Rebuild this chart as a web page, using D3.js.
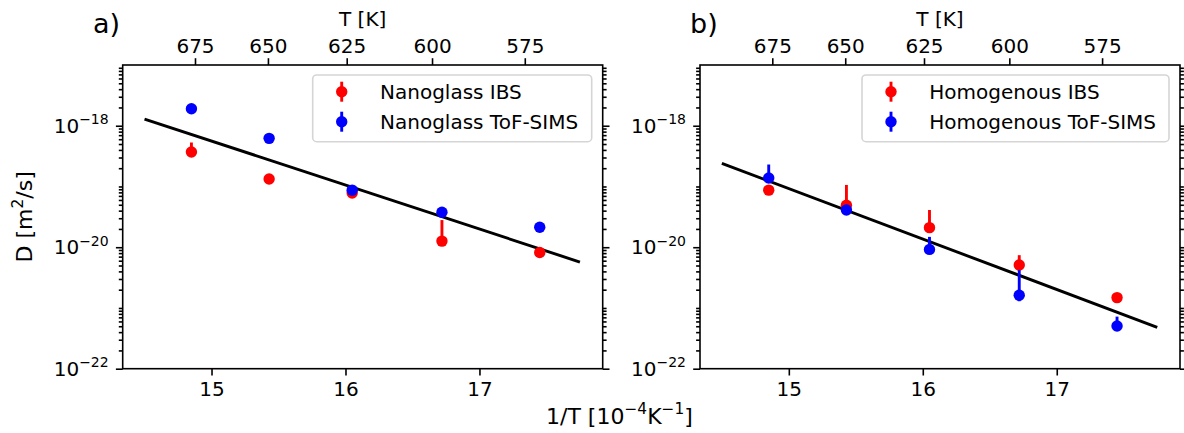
<!DOCTYPE html>
<html>
<head>
<meta charset="utf-8">
<script src="https://cdn.jsdelivr.net/npm/d3@7"></script>
<style>
  body { margin: 0; background: #fff; }
  svg { font-family: "DejaVu Sans", sans-serif; }
</style>
</head>
<body>
<div id="chart"></div>
<script>
// inverse temperature of the samples [1e-4 / K]
const invT = [14.85, 15.43, 16.05, 16.72, 17.45];
const tempTicks = [675, 650, 625, 600, 575];
const yMajor = [1e-22, 1e-20, 1e-18];

// a) nanoglass
const nanoIBS = [3.7e-19, 1.33e-19, 7.8e-20, 1.26e-20, 8.2e-21];
const nanoIBSLo = [3.4e-19, 1.25e-19, 7.3e-20, 1.18e-20, 7.7e-21];
const nanoIBSHi = [5.3e-19, 1.42e-19, 8.4e-20, 2.8e-20, 8.8e-21];
const nanoTof = [1.9e-18, 6.2e-19, 8.7e-20, 3.76e-20, 2.13e-20];
const nanoTofLo = [1.75e-18, 5.7e-19, 8.0e-20, 3.5e-20, 2.0e-20];
const nanoTofHi = [2.05e-18, 6.7e-19, 9.4e-20, 4.0e-20, 2.27e-20];

// b) homogenous
const homIBS = [8.7e-20, 4.9e-20, 2.1e-20, 5.1e-21, 1.48e-21];
const homIBSLo = [8.1e-20, 4.5e-20, 1.95e-20, 4.7e-21, 1.38e-21];
const homIBSHi = [9.4e-20, 1.06e-19, 4.1e-20, 7.4e-21, 1.58e-21];
const homTof = [1.38e-19, 4.1e-20, 9.2e-21, 1.62e-21, 5.05e-22];
const homTofLo = [1.25e-19, 3.8e-20, 8.5e-21, 1.29e-21, 4.7e-22];
const homTofHi = [2.3e-19, 4.4e-20, 1.48e-20, 4.2e-21, 7.2e-22];

// Arrhenius fits
const fitX = [14.5, 17.75];
const nanoFit = [1.29e-18, 5.7e-21];
const homFit = [2.4e-19, 4.8e-22];

const width = 1184, height = 433;
const plotTop = 65, plotBottom = 368.7, pw = 480;
const fs = 20, labelFs = 22;
const red = '#ff0000', blue = '#0000ff';

const svg = d3.select('#chart').append('svg')
    .attr('width', width).attr('height', height);

function series(vals, lo, hi, color, label) {
    const points = vals.map((v, i) => ({ x: invT[i], y: v, lo: lo[i], hi: hi[i] }));
    return { points: points, color: color, label: label };
}

const panels = [
    {
        left: 122.7, tag: 'a)', tagX: 93, fit: nanoFit, legendW: 279,
        sets: [series(nanoIBS, nanoIBSLo, nanoIBSHi, red, 'Nanoglass IBS'),
               series(nanoTof, nanoTofLo, nanoTofHi, blue, 'Nanoglass ToF-SIMS')]
    },
    {
        left: 700, tag: 'b)', tagX: 690, fit: homFit, legendW: 307,
        sets: [series(homIBS, homIBSLo, homIBSHi, red, 'Homogenous IBS'),
               series(homTof, homTofLo, homTofHi, blue, 'Homogenous ToF-SIMS')]
    }
];

function minorTicks() {
    const out = [];
    for (let e = -22; e < -17; e++) {
        for (let m = 1; m <= 9; m++) {
            if (m === 1 && e % 2 === 0) continue;
            out.push(m * Math.pow(10, e));
        }
    }
    return out;
}

function drawPanel(p) {
    const x = d3.scaleLinear().domain([14.337, 17.92]).range([p.left, p.left + pw]);
    const xTop = d3.scaleLinear().domain([14.25, 18.0]).range([p.left, p.left + pw]);
    const y = d3.scaleLog().domain([1e-22, 1e-17]).range([plotBottom, plotTop]);
    const g = svg.append('g');

    // fit line
    g.append('path')
        .datum(fitX.map((v, i) => [v, p.fit[i]]))
        .attr('d', d3.line().x(d => x(d[0])).y(d => y(d[1])))
        .attr('fill', 'none').attr('stroke', '#000').attr('stroke-width', 2.9);

    // error bars + markers
    p.sets.forEach(s => {
        const sg = g.append('g');
        sg.selectAll('line').data(s.points).enter().append('line')
            .attr('x1', d => x(d.x)).attr('x2', d => x(d.x))
            .attr('y1', d => y(d.lo)).attr('y2', d => y(d.hi))
            .attr('stroke', s.color).attr('stroke-width', 2.9);
        sg.selectAll('circle').data(s.points).enter().append('circle')
            .attr('cx', d => x(d.x)).attr('cy', d => y(d.y)).attr('r', 5.7)
            .attr('fill', s.color);
    });

    // frame
    g.append('rect').attr('x', p.left).attr('y', plotTop).attr('width', pw).attr('height', plotBottom - plotTop)
        .attr('fill', 'none').attr('stroke', '#000').attr('stroke-width', 1.6);

    const styleAxis = sel => {
        sel.select('.domain').remove();
        sel.selectAll('line').attr('stroke', '#000').attr('stroke-width', 1.6);
        sel.selectAll('text').attr('font-size', fs).attr('fill', '#000')
            .attr('font-family', '"DejaVu Sans", sans-serif');
    };

    // bottom axis
    g.append('g').attr('transform', `translate(0,${plotBottom})`)
        .call(d3.axisBottom(x).tickValues([15, 16, 17]).tickFormat(d3.format('d'))
            .tickSize(6.8).tickPadding(6))
        .call(styleAxis);

    // top axis in temperature
    g.append('g').attr('transform', `translate(0,${plotTop})`)
        .call(d3.axisTop(xTop).tickValues(tempTicks.map(t => 1e4 / t))
            .tickFormat((d, i) => tempTicks[i]).tickSize(6.8).tickPadding(5))
        .call(styleAxis);

    // y axes, left and right
    [[p.left, d3.axisLeft], [p.left + pw, d3.axisRight]].forEach(([xp, ax]) => {
        g.append('g').attr('transform', `translate(${xp},0)`)
            .call(ax(y).tickValues(yMajor).tickFormat('').tickSize(6.8))
            .call(styleAxis);
        g.append('g').attr('transform', `translate(${xp},0)`)
            .call(ax(y).tickValues(minorTicks()).tickFormat('').tickSize(3.9))
            .call(styleAxis);
    });

    // y tick labels 10^n
    const yl = g.append('g');
    yMajor.forEach(v => {
        const t = yl.append('text')
            .attr('x', p.left - 14).attr('y', y(v)).attr('dy', '0.36em')
            .attr('text-anchor', 'end').attr('font-size', fs);
        t.append('tspan').text('10');
        t.append('tspan').attr('font-size', fs * 0.7).attr('dy', '-0.62em')
            .text('\u2212' + Math.round(-Math.log10(v)));
    });

    // T [K]
    g.append('text').attr('x', p.left + pw / 2).attr('y', 26)
        .attr('text-anchor', 'middle').attr('font-size', fs).text('T [K]');

    // panel tag
    svg.append('text').attr('x', p.tagX).attr('y', 33).attr('font-size', 27).text(p.tag);

    // legend
    const lg = g.append('g');
    const bx = p.left + pw - 11 - p.legendW, ly = 75;
    lg.append('rect').attr('x', bx).attr('y', ly).attr('width', p.legendW).attr('height', 66.7).attr('rx', 4)
        .attr('fill', '#fff').attr('fill-opacity', 0.8)
        .attr('stroke', '#d5d5d5').attr('stroke-width', 1.6);
    p.sets.forEach((s, i) => {
        const cy = ly + 16.7 + i * 30;
        lg.append('line').attr('x1', bx + 29).attr('x2', bx + 29)
            .attr('y1', cy - 10).attr('y2', cy + 10)
            .attr('stroke', s.color).attr('stroke-width', 2.9);
        lg.append('circle').attr('cx', bx + 29).attr('cy', cy).attr('r', 5.7).attr('fill', s.color);
        lg.append('text').attr('x', bx + 67.3).attr('y', cy).attr('dy', '0.36em')
            .attr('font-size', fs).text(s.label);
    });
}

panels.forEach(drawPanel);

// y label
const ylab = svg.append('text').attr('transform', `translate(32,${(plotTop + plotBottom) / 2}) rotate(-90)`)
    .attr('text-anchor', 'middle').attr('font-size', labelFs);
ylab.append('tspan').text('D [m');
ylab.append('tspan').attr('font-size', labelFs * 0.7).attr('dy', '-0.6em').text('2');
ylab.append('tspan').attr('dy', '0.42em').text('/s]');

// x label
const xlab = svg.append('text').attr('x', 546).attr('y', 424).attr('font-size', labelFs);
xlab.append('tspan').text('1/T [10');
xlab.append('tspan').attr('font-size', labelFs * 0.7).attr('dy', '-0.62em').text('\u22124');
xlab.append('tspan').attr('dy', '0.434em').text('K');
xlab.append('tspan').attr('font-size', labelFs * 0.7).attr('dy', '-0.62em').text('\u22121');
xlab.append('tspan').attr('dy', '0.434em').text(']');
</script>
</body>
</html>
